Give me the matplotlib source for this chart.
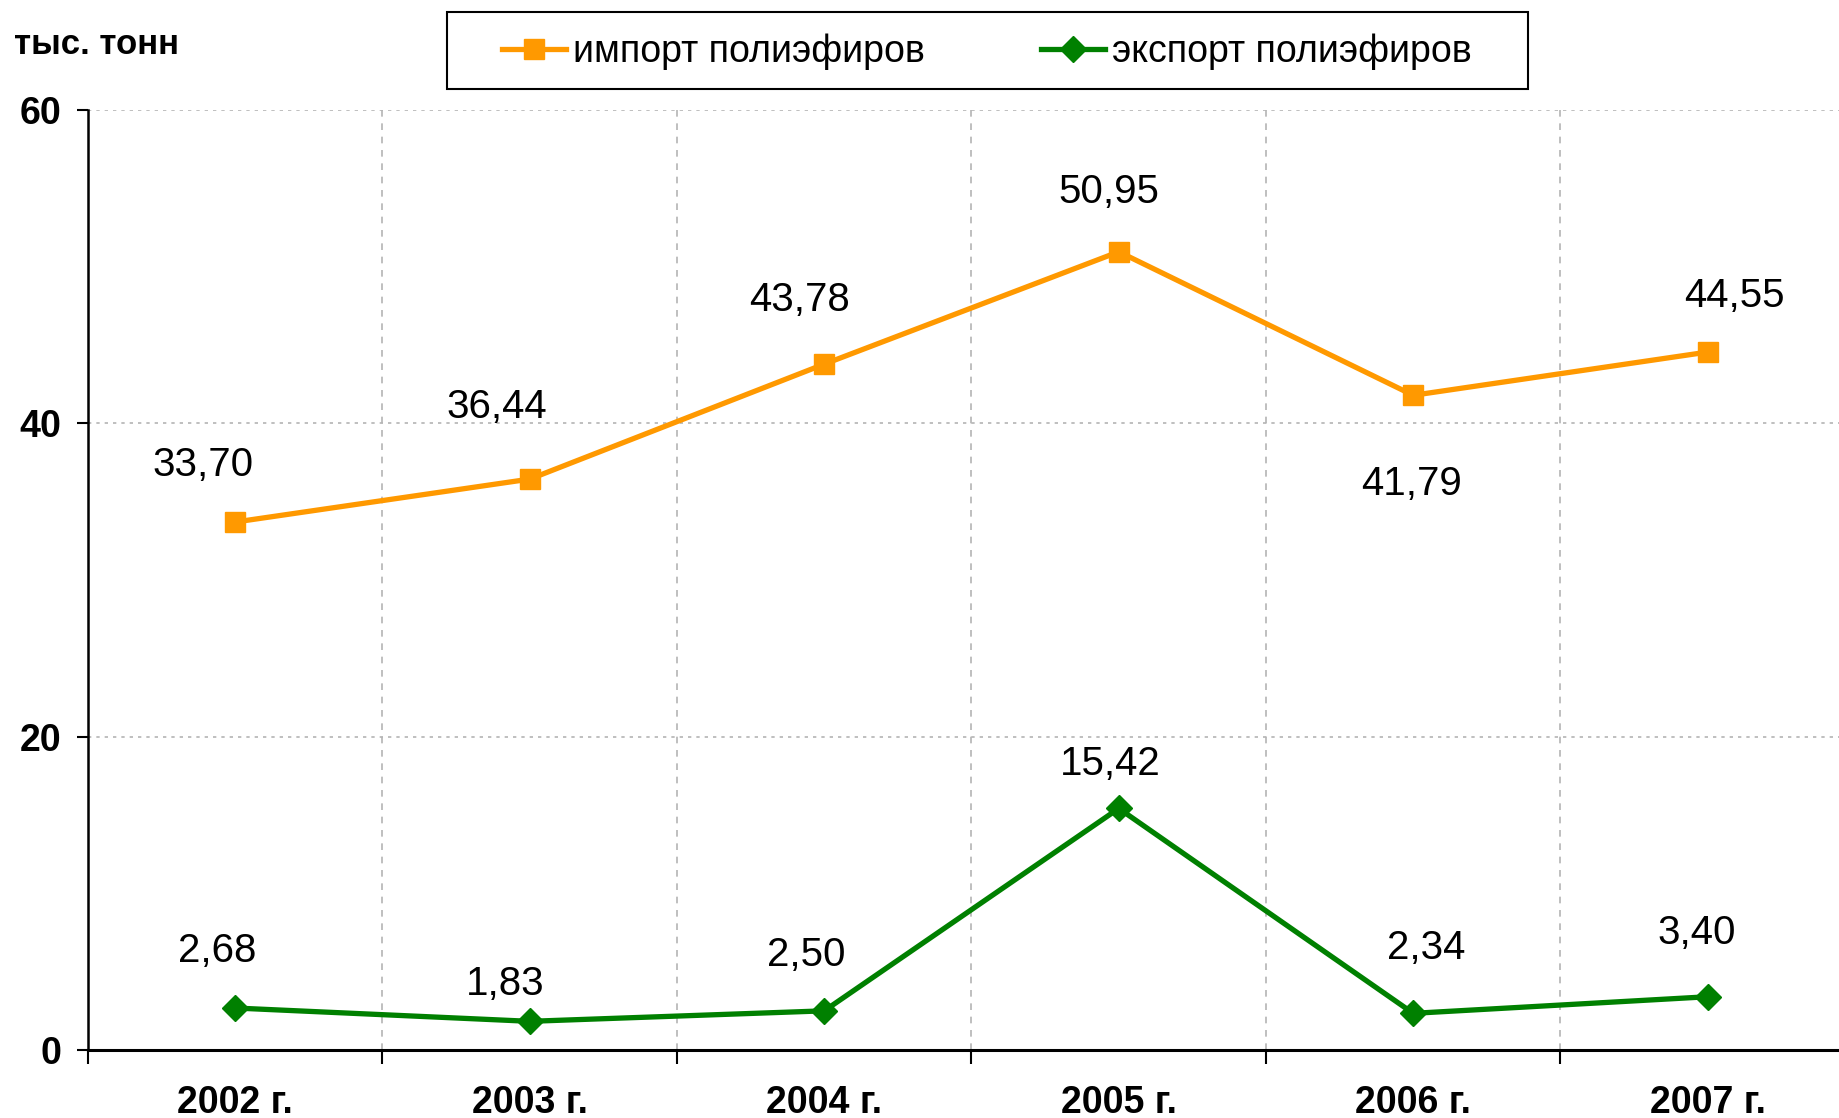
import numpy as np
import matplotlib.pyplot as plt
from matplotlib.ticker import FixedLocator
from matplotlib.patches import Rectangle

plt.rcParams['font.family'] = ['Liberation Sans', 'DejaVu Sans']

# Data
years = ['2002 г.', '2003 г.', '2004 г.', '2005 г.', '2006 г.', '2007 г.']
import_vals = [33.70, 36.44, 43.78, 50.95, 41.79, 44.55]
export_vals = [2.68, 1.83, 2.50, 15.42, 2.34, 3.40]

# label offsets (points) relative to each marker
import_offsets = [(-23, 41), (-24, 52), (-18, 46), (-7, 43), (-1, -64), (19, 40)]
export_offsets = [(-13, 41), (-18, 27), (-13, 40), (-6, 32), (9, 47), (-8, 46)]

orange = '#FF9900'
green = '#008000'

fig = plt.figure(figsize=(18.4, 11.18), dpi=100)
ax = fig.add_axes([88 / 1840, 1 - 1050 / 1118, 1767 / 1840, 940 / 1118])

x = np.arange(len(years))
ax.plot(x, import_vals, color=orange, lw=3.8, marker='s', ms=15,
        label='импорт полиэфиров')
ax.plot(x, export_vals, color=green, lw=3.8, marker='D', ms=13,
        label='экспорт полиэфиров')

def fmt(v):
    return f'{v:.2f}'.replace('.', ',')

for xi, v, off in zip(x, import_vals, import_offsets):
    ax.annotate(fmt(v), (xi, v), xytext=off, textcoords='offset points',
                ha='center', va='center', fontsize=29)
for xi, v, off in zip(x, export_vals, export_offsets):
    ax.annotate(fmt(v), (xi, v), xytext=off, textcoords='offset points',
                ha='center', va='center', fontsize=29)

ax.set_xlim(-0.5, 5.5)
ax.set_ylim(0, 60)

ax.set_yticks([0, 20, 40, 60])
ax.tick_params(axis='y', length=8, width=1.5, pad=11, labelsize=27)
for lab in ax.get_yticklabels():
    lab.set_fontweight('bold')

ax.set_xticks(x)
ax.set_xticklabels(years, fontsize=27, fontweight='bold')
ax.tick_params(axis='x', which='major', length=0, pad=25)
ax.xaxis.set_minor_locator(FixedLocator(np.arange(-0.5, 6, 1)))
ax.tick_params(axis='x', which='minor', length=10, width=1.5)

ax.grid(axis='y', which='major', color='#b4b4b4', ls=(0, (2, 3)), lw=1.2)
ax.grid(axis='x', which='minor', color='#b4b4b4', ls=(0, (4, 4)), lw=1.2)
ax.set_axisbelow(True)

for s in ['top', 'right']:
    ax.spines[s].set_visible(False)
ax.spines['left'].set_linewidth(1.8)
ax.spines['bottom'].set_linewidth(2.2)

fig.text(14 / 1840, 1 - 45 / 1118, 'тыс. тонн', fontsize=25, fontweight='bold',
         ha='left', va='center')

# legend box drawn separately to get the wide side padding
fig.patches.append(Rectangle((447 / 1840, 1 - 89 / 1118), 1081 / 1840, 77 / 1118,
                             transform=fig.transFigure, fill=False,
                             edgecolor='black', lw=1.5))
fig.legend(loc='center', bbox_to_anchor=(987 / 1840, 1 - 52 / 1118),
           ncol=2, fontsize=27, frameon=False, handlelength=1.7,
           handletextpad=0.2, columnspacing=3.1)

fig.savefig('out.png', dpi=100)
